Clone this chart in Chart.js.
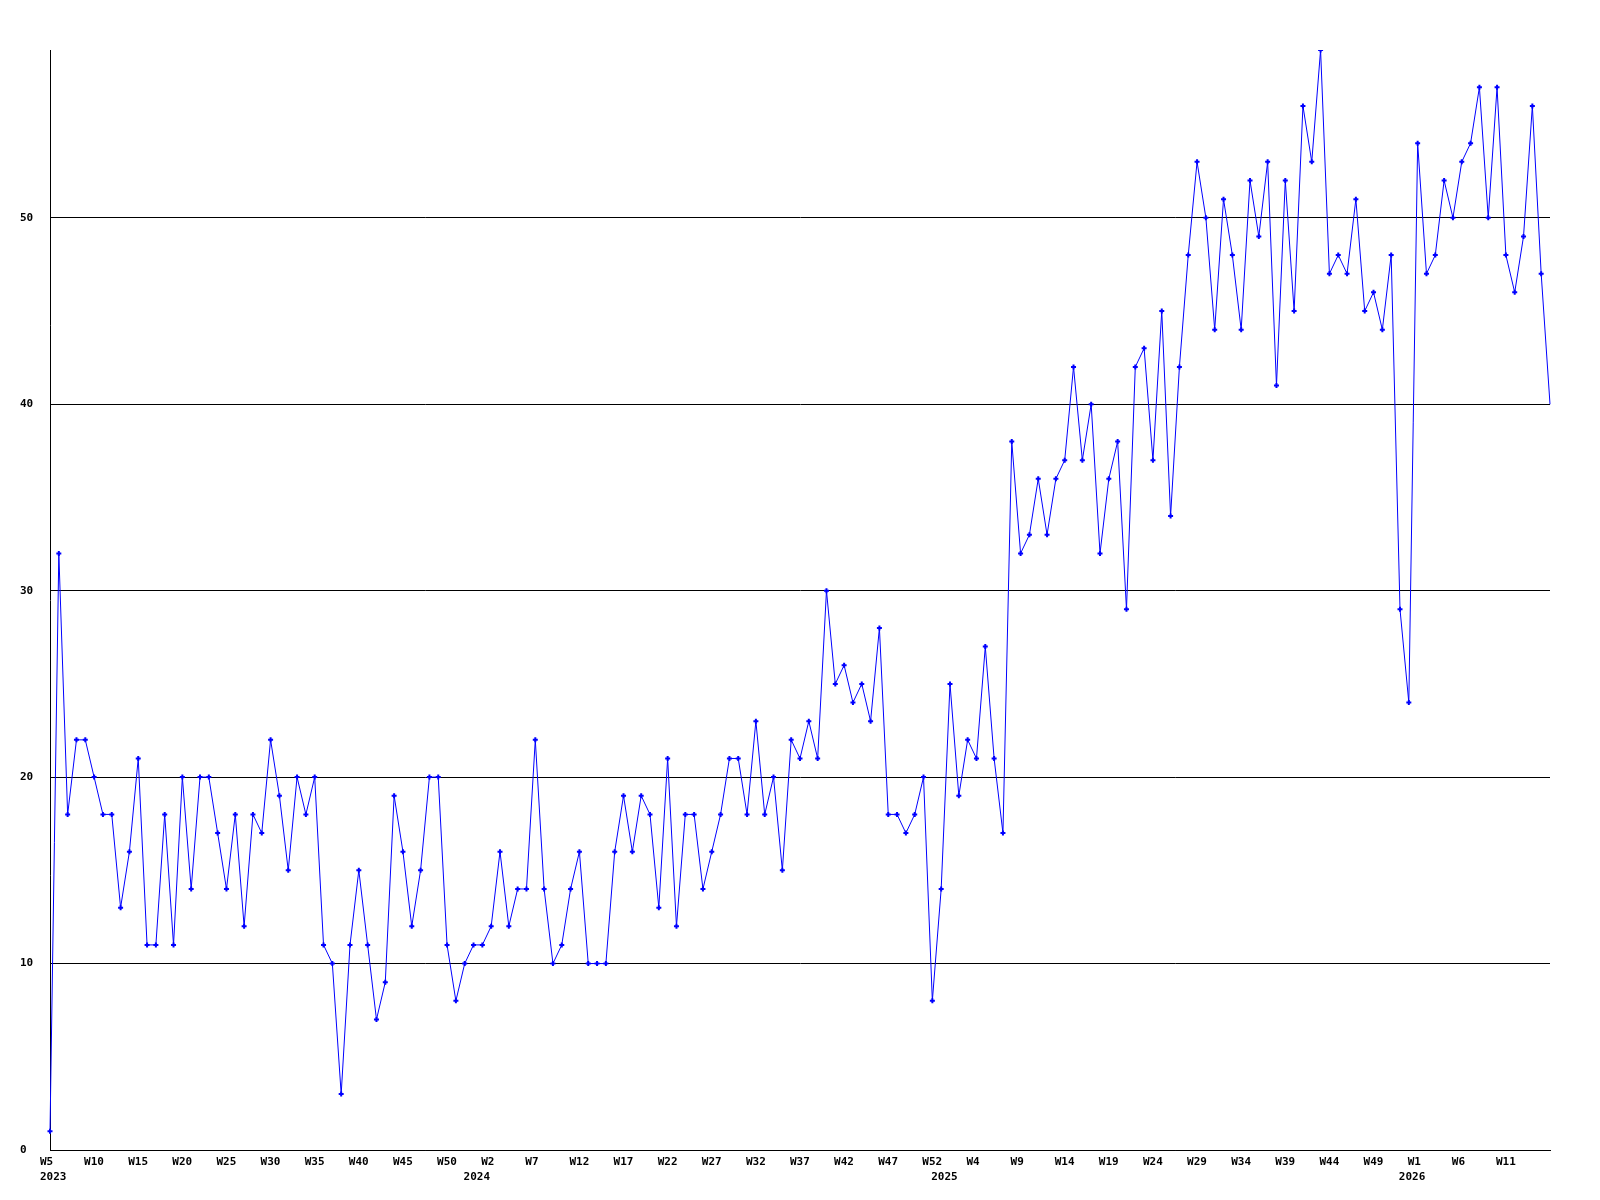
<!DOCTYPE html>
<html lang="en">
<head>
    <meta charset="UTF-8">
    <title>Weekly count</title>
    <script src="https://cdn.jsdelivr.net/npm/chart.js"></script>
    <style>
        body { margin: 0; background: #fff; }
    </style>
</head>
<body>
    <canvas id="weeklyChart" width="1600" height="1200"></canvas>
    <script>
        // one array per year, weeks counted from firstWeeks[k]
        var years = [2023, 2024, 2025, 2026];
        var firstWeeks = [5, 0, 0, 0];

        var counts2023 = [1, 32, 18, 22, 22, 20, 18, 18, 13, 16, 21, 11, 11, 18, 11, 20,
            14, 20, 20, 17, 14, 18, 12, 18, 17, 22, 19, 15, 20, 18, 20, 11,
            10, 3, 11, 15, 11, 7, 9, 19, 16, 12, 15, 20, 20, 11, 8, 10];
        var counts2024 = [11, 11, 12, 16, 12, 14, 14, 22, 14, 10, 11, 14, 16, 10, 10, 10,
            16, 19, 16, 19, 18, 13, 21, 12, 18, 18, 14, 16, 18, 21, 21, 18,
            23, 18, 20, 15, 22, 21, 23, 21, 30, 25, 26, 24, 25, 23, 28, 18,
            18, 17, 18, 20, 8];
        var counts2025 = [14, 25, 19, 22, 21, 27, 21, 17, 38, 32, 33, 36, 33, 36, 37, 42,
            37, 40, 32, 36, 38, 29, 42, 43, 37, 45, 34, 42, 48, 53, 50, 44,
            51, 48, 44, 52, 49, 53, 41, 52, 45, 56, 53, 59, 47, 48, 47, 51,
            45, 46, 44, 48, 29];
        var counts2026 = [24, 54, 47, 48, 52, 50, 53, 54, 57, 50, 57, 48, 46, 49, 56, 47, 40];

        var yTicks = [0, 10, 20, 30, 40, 50];

        var seriesByYear = [counts2023, counts2024, counts2025, counts2026];
        var labels = [];
        var values = [];
        var yearStarts = {};
        seriesByYear.forEach(function (arr, k) {
            yearStarts[labels.length] = String(years[k]);
            arr.forEach(function (v, j) {
                labels.push('W' + (firstWeeks[k] + j));
                values.push(v);
            });
        });

        Chart.defaults.font.family = '"DejaVu Sans Mono", monospace';
        Chart.defaults.font.size = 11;
        Chart.defaults.font.weight = 'bold';
        Chart.defaults.color = '#000';

        var ctx = document.getElementById('weeklyChart').getContext('2d');
        var weeklyChart = new Chart(ctx, {
            type: 'line',
            data: {
                labels: labels,
                datasets: [{
                    data: values,
                    borderColor: '#0000ff',
                    borderWidth: 1,
                    tension: 0,
                    fill: false,
                    pointStyle: 'cross',
                    // the current (unfinished) week has no marker
                    pointRadius: function (c) { return c.dataIndex === values.length - 1 ? 0 : 2.5; },
                    pointBorderWidth: 2,
                    pointBorderColor: '#0000ff',
                    pointBackgroundColor: '#0000ff'
                }]
            },
            options: {
                responsive: false,
                animation: false,
                devicePixelRatio: 1,
                layout: { padding: { left: 20, right: 50, top: 50, bottom: 0 } },
                plugins: {
                    legend: { display: false },
                    tooltip: { enabled: false }
                },
                scales: {
                    x: {
                        type: 'category',
                        offset: false,
                        grid: { display: false, drawTicks: false },
                        border: { display: true, color: '#000', width: 1 },
                        afterFit: function (scale) { scale.height = 50; },
                        ticks: {
                            autoSkip: false,
                            maxRotation: 0,
                            minRotation: 0,
                            align: 'start',
                            labelOffset: -10,
                            padding: 5,
                            font: { lineHeight: '15px' },
                            callback: function (value, index) {
                                // week label every 5th point, none on the last one
                                var showWeek = index % 5 === 0 && index < labels.length - 1;
                                var lines = [showWeek ? labels[index] : ''];
                                if (yearStarts[index]) lines.push(yearStarts[index]);
                                if (lines.length === 1 && !lines[0]) return '';
                                return lines;
                            }
                        }
                    },
                    y: {
                        min: 0,
                        max: 59,
                        afterFit: function (scale) { scale.width = 30; },
                        afterBuildTicks: function (scale) {
                            scale.ticks = yTicks.map(function (v) { return { value: v }; });
                        },
                        grid: { color: '#000', lineWidth: 1, drawTicks: false },
                        border: { display: true, color: '#000', width: 1 },
                        ticks: {
                            crossAlign: 'far',
                            padding: 0
                        }
                    }
                }
            }
        });
    </script>
</body>
</html>
